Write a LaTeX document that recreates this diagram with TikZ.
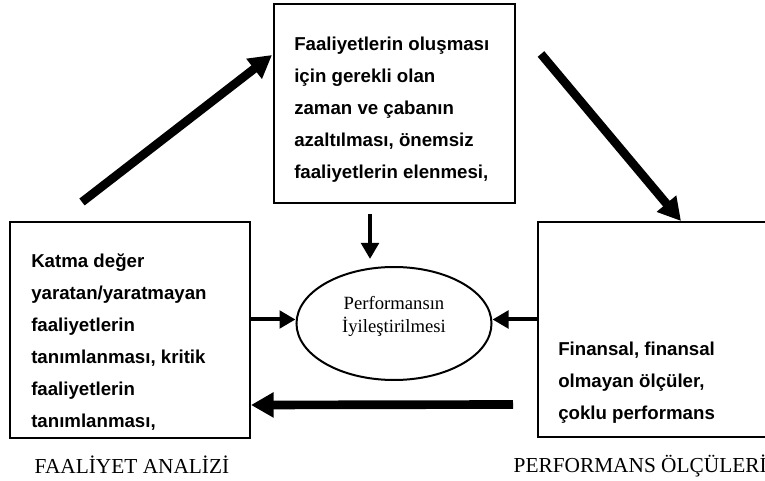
\documentclass[tikz,border=0pt]{standalone}
\usepackage{fontspec}
\setmainfont{Liberation Serif}
\setsansfont{Liberation Sans}
\usetikzlibrary{arrows.meta,positioning,shapes.geometric}
\tikzset{
	box/.style={draw, line width=1.5pt, inner sep=0pt},
	boxtext/.style={anchor=north west, inner sep=0pt, align=left, font=\sffamily\bfseries\fontsize{14}{24}\selectfont},
	bottomlabel/.style={inner sep=0pt, font=\fontsize{16}{19}\selectfont},
	thinarrow/.style={line width=3pt, -{Triangle[length=12pt, width=13pt]}},
	thickarrow/.style={line width=6.5pt, -{Triangle[length=17pt, width=18pt]}}
}

\begin{document}
\begin{tikzpicture}[x=0.75pt, y=-0.75pt]
			%%%%% START %%%%%
			\useasboundingbox (0, 0) rectangle (765, 481);
			
			\node[box, minimum width=180.75pt, minimum height=149.25pt] (act) at (394.5, 103.5) {};
			\node[box, minimum width=180pt, minimum height=162pt] (fa) at (130, 330) {};
			\node[box, minimum width=171pt, minimum height=161.25pt] (po) at (652, 329.5) {};
			\node[draw, ellipse, line width=1.5pt, inner sep=0pt, minimum width=146.25pt, minimum height=84.75pt] (imp) at (394, 323.5) {};
			
			\node[boxtext] (acttext) at ([shift={(21, 34)}]act.north west) {Faaliyetlerin oluşması\\için gerekli olan\\zaman ve çabanın\\azaltılması, önemsiz\\faaliyetlerin elenmesi,};
			\node[boxtext] (fatext) at ([shift={(22, 33)}]fa.north west) {Katma değer\\yaratan/yaratmayan\\faaliyetlerin\\tanımlanması, kritik\\faaliyetlerin\\tanımlanması,};
			\node[boxtext] (potext) at ([shift={(21, 121)}]po.north west) {Finansal, finansal\\olmayan ölçüler,\\çoklu performans};
			\node[align=center, inner sep=0pt, font=\fontsize{14}{17.25}\selectfont] (imptext) at ([shift={(0, -7)}]imp.center) {Performansın\\İyileştirilmesi};
			
			\draw[thickarrow] ([shift={(-48, -19)}]fa.north) -- ([shift={(-1, -48.5)}]act.west);
			\draw[thickarrow] ([shift={(25, 51)}]act.north east) -- ([shift={(144, 0)}]po.north west);
			\draw[thinarrow] ([shift={(-24.5, 10)}]act.south) -- ([shift={(-24.5, -7)}]act.south |- imp.north);
			\draw[thinarrow] ([shift={(0, -4)}]fa.east |- imp.west) -- ([shift={(0, -4)}]imp.west);
			\draw[thinarrow] ([shift={(0, -4)}]po.west |- imp.east) -- ([shift={(0, -4)}]imp.east);
			\draw[thickarrow] ([shift={(-24, 75)}]po.west) -- ([shift={(0, 75)}]fa.east);
			
			\node[bottomlabel, anchor=base] (falabel) at ([shift={(2, 34)}]fa.south) {FAALİYET ANALİZİ};
			\node[bottomlabel, anchor=base east] (polabel) at ([shift={(0, 34)}]po.south east) {PERFORMANS ÖLÇÜLERİ};
			%%%%% END %%%%%
\end{tikzpicture}
\end{document}
